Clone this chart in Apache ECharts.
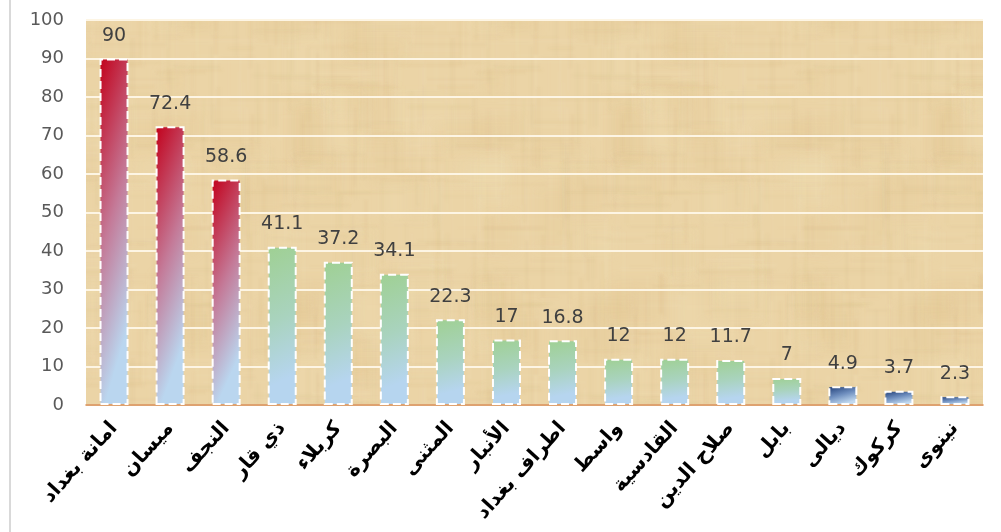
<!DOCTYPE html>
<html>
<head>
<meta charset="utf-8">
<script src="https://cdn.jsdelivr.net/npm/echarts@6/dist/echarts.min.js"></script>
<style>
  html, body { margin: 0; padding: 0; background: #ffffff; }
  #chart { width: 1001px; height: 532px; }
</style>
</head>
<body>
<div id="chart"></div>
<script>
// Governorates, ordered by value
const categories = [
  'امانة بغداد', 'ميسان', 'النجف', 'ذي قار', 'كربلاء', 'البصرة', 'المثنى',
  'الأنبار', 'اطراف بغداد', 'واسط', 'القادسية', 'صلاح الدين', 'بابل',
  'ديالى', 'كركوك', 'نينوى'
];
const values = [90, 72.4, 58.6, 41.1, 37.2, 34.1, 22.3, 17, 16.8, 12, 12, 11.7, 7, 4.9, 3.7, 2.3];
// colour group of each bar: 0 = high (red), 1 = middle (green), 2 = low (navy)
const groups = [0, 0, 0, 1, 1, 1, 1, 1, 1, 1, 1, 1, 1, 2, 2, 2];
const yTicks = { min: 0, max: 100, interval: 10 };

const GRID = { left: 86, right: 18, top: 20, bottom: 127 };
const BAR_W = 29;
const plotH = 532 - GRID.top - GRID.bottom;

const palette = [
  { stops: ['#c2001a', '#c47a98', '#bad6ef'], tilt: 0.22 },
  { stops: ['#9fd093', '#a9d3be', '#b6d5ef'], tilt: 0.08 },
  { stops: ['#1c3a74', '#6f8fbf', '#c2daf0'], tilt: 0.3 }
];

// Slanted gradient in the bar's own box: t = tilt*u + (1 - tilt)*v,
// converted to the pixel-space vector zrender expects.
function barGradient(v, p) {
  const w = BAR_W;
  const h = Math.max(1, v / yTicks.max * plotH);
  const a = p.tilt;
  const S = (a * a) / (w * w) + ((1 - a) * (1 - a)) / (h * h);
  const k = 1 / S;
  return new echarts.graphic.LinearGradient(0, 0, k * a / (w * w), k * (1 - a) / (h * h), [
    { offset: 0, color: p.stops[0] },
    { offset: 0.45, color: p.stops[1] },
    { offset: 0.82, color: p.stops[2] },
    { offset: 1, color: p.stops[2] }
  ]);
}

// Papyrus-like fibre texture for the plotting area (seamless tile)
function papyrus() {
  const N = 320;
  const c = document.createElement('canvas');
  c.width = N; c.height = N;
  const g = c.getContext('2d');
  g.fillStyle = '#ebd4a6';
  g.fillRect(0, 0, N, N);
  const h = (n) => { const s = Math.sin(n * 127.1 + 311.7) * 43758.5453; return s - Math.floor(s); };
  const wrapRect = (x, y, w, hh) => {
    for (let ox = -N; ox <= N; ox += N) {
      for (let oy = -N; oy <= N; oy += N) g.fillRect(x + ox, y + oy, w, hh);
    }
  };
  g.filter = 'blur(1.2px)';
  for (let i = 0; i < 420; i++) {
    const x = h(i * 3.1) * N, y = h(i * 7.7 + 5) * N;
    const a = 0.03 + h(i * 1.3) * 0.045;
    g.fillStyle = h(i * 2.9) > 0.5 ? 'rgba(205,168,110,' + a + ')' : 'rgba(255,244,214,' + a + ')';
    if (h(i * 9.7) > 0.45) {
      wrapRect(x, y, 1.5 + h(i * 5.3) * 3, 20 + h(i * 4.1) * 70);
    } else {
      wrapRect(x, y, 20 + h(i * 5.3) * 60, 1.5 + h(i * 4.1) * 3);
    }
  }
  g.filter = 'blur(6px)';
  for (let i = 0; i < 40; i++) {
    const x = h(i * 13.3 + 2) * N, y = h(i * 17.9 + 9) * N;
    g.fillStyle = h(i * 6.1) > 0.5 ? 'rgba(214,178,120,0.08)' : 'rgba(250,236,200,0.10)';
    wrapRect(x, y, 20 + h(i * 3.7) * 40, 20 + h(i * 2.3) * 40);
  }
  return c;
}

const chart = echarts.init(document.getElementById('chart'), null, { renderer: 'canvas' });

chart.setOption({
  animation: false,
  backgroundColor: '#ffffff',
  grid: {
    left: GRID.left, right: GRID.right, top: GRID.top, bottom: GRID.bottom,
    outerBoundsMode: 'none',
    containLabel: false,
    show: true,
    borderWidth: 0,
    backgroundColor: { image: papyrus(), repeat: 'repeat' }
  },
  graphic: [{
    type: 'line',
    shape: { x1: 10, y1: 0, x2: 10, y2: 532 },
    style: { stroke: '#d9d9d9', lineWidth: 2 }
  }],
  xAxis: {
    type: 'category',
    data: categories,
    axisLine: { lineStyle: { color: '#d4874a', width: 1.5 } },
    axisTick: { show: false },
    axisLabel: {
      interval: 0,
      rotate: 48,
      margin: 20,
      color: '#000000',
      fontWeight: 'bold',
      fontSize: 20,
      fontFamily: 'DejaVu Sans'
    }
  },
  yAxis: {
    type: 'value',
    min: yTicks.min, max: yTicks.max, interval: yTicks.interval,
    axisLine: { show: false },
    axisTick: { show: false },
    splitLine: { lineStyle: { color: '#fdf5e4', width: 2 } },
    axisLabel: {
      margin: 22,
      color: '#595959',
      fontSize: 18,
      fontFamily: 'DejaVu Sans'
    }
  },
  series: [{
    type: 'bar',
    barWidth: BAR_W,
    data: values.map((v, i) => ({
      value: v,
      itemStyle: { color: barGradient(v, palette[groups[i]]) }
    })),
    itemStyle: {
      borderColor: '#ffffff',
      borderWidth: 2,
      borderType: [8, 4]
    },
    label: {
      show: true,
      position: 'top',
      distance: 13,
      color: '#404040',
      fontSize: 19,
      fontFamily: 'DejaVu Sans'
    }
  }]
});
</script>
</body>
</html>
